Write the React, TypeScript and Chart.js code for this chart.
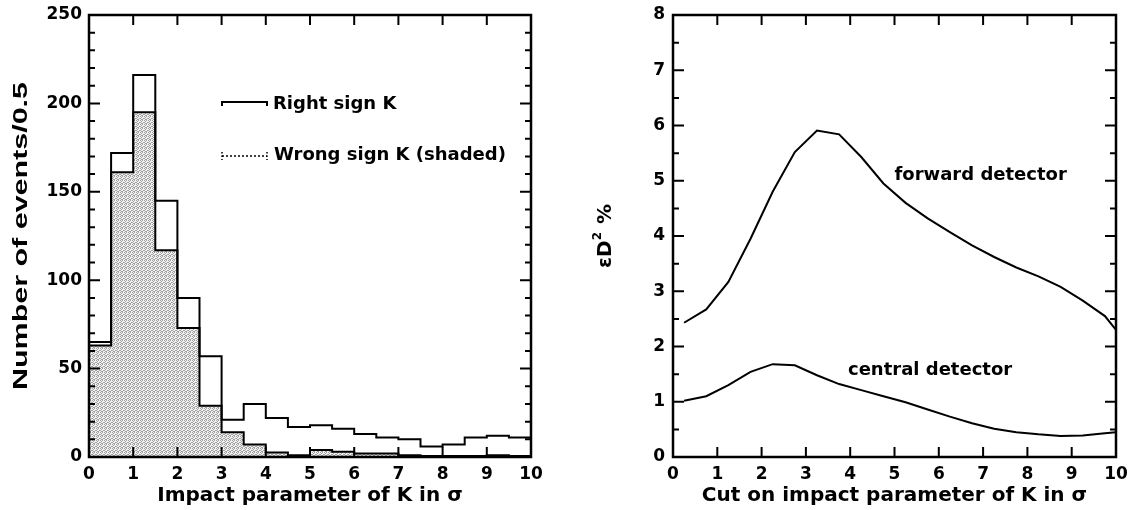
import React, { useEffect, useRef } from "react";
import { Chart, registerables } from "chart.js";

Chart.register(...registerables);

// ---------------- data ----------------
const binEdges = [0, 0.5, 1, 1.5, 2, 2.5, 3, 3.5, 4, 4.5, 5, 5.5, 6, 6.5, 7, 7.5, 8, 8.5, 9, 9.5];
const histEnd = 10;
const rightSign = [65, 172, 216, 145, 90, 57, 21, 30, 22, 17, 18, 16, 13, 11, 10, 6, 7, 11, 12, 11];
const wrongSign = [63, 161, 195, 117, 73, 29, 14, 7, 2.5, 1, 4, 3, 2, 2, 1, 0.5, 0.5, 0.5, 1, 0.5];
const histXTicks = [0, 1, 2, 3, 4, 5, 6, 7, 8, 9, 10];
const histYTicks = [0, 50, 100, 150, 200, 250];
const histYMinor = [10, 20, 30, 40, 60, 70, 80, 90, 110, 120, 130, 140, 160, 170, 180, 190, 210, 220, 230, 240];

const cutValues = [0.25, 0.75, 1.25, 1.75, 2.25, 2.75, 3.25, 3.75, 4.25, 4.75, 5.25, 5.75, 6.25, 6.75, 7.25, 7.75, 8.25, 8.75, 9.25, 9.75, 10];
const forwardDet = [2.43, 2.67, 3.17, 3.95, 4.8, 5.52, 5.91, 5.84, 5.43, 4.95, 4.6, 4.32, 4.07, 3.83, 3.62, 3.43, 3.27, 3.08, 2.83, 2.55, 2.3];
const centralDet = [1.02, 1.1, 1.3, 1.54, 1.68, 1.66, 1.48, 1.32, 1.21, 1.1, 0.99, 0.86, 0.73, 0.61, 0.51, 0.45, 0.41, 0.38, 0.39, 0.43, 0.45];
const effXTicks = [0, 1, 2, 3, 4, 5, 6, 7, 8, 9, 10];
const effYTicks = [0, 1, 2, 3, 4, 5, 6, 7, 8];
const effYMinor = [0.5, 1.5, 2.5, 3.5, 4.5, 5.5, 6.5, 7.5];

// ---------------- styles ----------------
const FONT = "'DejaVu Sans', sans-serif";
const tickFont = { family: FONT, size: 17, weight: "bold" as const };
const titleFont = { family: FONT, size: 20, weight: "bold" as const };

function makePattern(ctx: CanvasRenderingContext2D) {
  const c = document.createElement("canvas");
  c.width = 4;
  c.height = 4;
  const p = c.getContext("2d")!;
  p.fillStyle = "#f2f2f2";
  p.fillRect(0, 0, 4, 4);
  p.fillStyle = "#a0a0a0";
  const dots = [
    [0, 0], [2, 0], [1, 1], [3, 2], [0, 2], [2, 3], [1, 3],
  ];
  for (const [x, y] of dots) p.fillRect(x, y, 1, 1);
  return ctx.createPattern(c, "repeat");
}

function zeroXPad(s: any) {
  s.height = 53;
  s.paddingLeft = 0;
  s.paddingRight = 0;
}

function frameTicks(id: string, xMajor: number[], yMajor: number[], yMinor: number[]) {
  return {
    id,
    afterDraw(chart: any) {
      const { ctx, chartArea: a, scales } = chart;
      const xs = scales.x;
      const ys = scales.y;
      ctx.save();
      ctx.strokeStyle = "#000";
      ctx.lineWidth = 2;
      ctx.beginPath();
      for (const v of xMajor) {
        const px = xs.getPixelForValue(v);
        if (px <= a.left + 1 || px >= a.right - 1) continue;
        ctx.moveTo(px, a.bottom);
        ctx.lineTo(px, a.bottom - 10);
        ctx.moveTo(px, a.top);
        ctx.lineTo(px, a.top + 10);
      }
      for (const v of yMajor) {
        const py = ys.getPixelForValue(v);
        if (py <= a.top + 1 || py >= a.bottom - 1) continue;
        ctx.moveTo(a.left, py);
        ctx.lineTo(a.left + 11, py);
        ctx.moveTo(a.right, py);
        ctx.lineTo(a.right - 11, py);
      }
      for (const v of yMinor) {
        const py = ys.getPixelForValue(v);
        ctx.moveTo(a.left, py);
        ctx.lineTo(a.left + 6, py);
        ctx.moveTo(a.right, py);
        ctx.lineTo(a.right - 6, py);
      }
      ctx.stroke();
      ctx.lineWidth = 2.5;
      ctx.strokeRect(a.left, a.top, a.right - a.left, a.bottom - a.top);
      ctx.restore();
    },
  };
}

function HistChart() {
  const ref = useRef<HTMLCanvasElement>(null);
  useEffect(() => {
    const canvas = ref.current!;
    const ctx = canvas.getContext("2d")!;
    const pattern = makePattern(ctx);
    const rightPts = binEdges.map((x, i) => ({ x, y: rightSign[i] }));
    rightPts.push({ x: histEnd, y: rightSign[rightSign.length - 1] });
    const wrongPts = binEdges.map((x, i) => ({ x, y: wrongSign[i] }));
    wrongPts.push({ x: histEnd, y: wrongSign[wrongSign.length - 1] });

    const decor = {
      id: "histDecor",
      afterDraw(chart: any) {
        const { ctx: c, chartArea: a } = chart;
        c.save();
        c.fillStyle = "#000";
        c.strokeStyle = "#000";
        // legend
        const x0 = a.left + 133;
        const x1 = a.left + 178;
        const y1 = a.top + 87;
        c.lineWidth = 2;
        c.beginPath();
        c.moveTo(x0, y1 + 4);
        c.lineTo(x0, y1);
        c.lineTo(x1, y1);
        c.lineTo(x1, y1 + 4);
        c.stroke();
        const y2 = a.top + 141;
        c.lineWidth = 1.5;
        c.setLineDash([2, 2]);
        c.beginPath();
        c.moveTo(x0, y2);
        c.lineTo(x1, y2);
        c.stroke();
        c.setLineDash([1.5, 2]);
        c.beginPath();
        c.moveTo(x0, y2 - 4);
        c.lineTo(x0, y2 + 4);
        c.moveTo(x1, y2 - 4);
        c.lineTo(x1, y2 + 4);
        c.stroke();
        c.setLineDash([]);
        c.font = `bold 18px ${FONT}`;
        c.textAlign = "left";
        c.textBaseline = "alphabetic";
        c.fillText("Right sign K", a.left + 184, a.top + 94);
        c.fillText("Wrong sign K (shaded)", a.left + 185, a.top + 145);
        // y title
        c.font = `bold 21px 'Liberation Sans', Arial, sans-serif`;
        const text = "Number of events/0.5";
        const w = c.measureText(text).width;
        c.translate(21, 236);
        c.rotate(-Math.PI / 2);
        c.scale(308 / w, 1);
        c.textAlign = "center";
        c.textBaseline = "middle";
        c.fillText(text, 0, 0);
        c.restore();
      },
    };

    const chart = new Chart(canvas, {
      type: "line",
      data: {
        datasets: [
          {
            data: rightPts,
            stepped: "before",
            borderColor: "#000",
            borderWidth: 2,
            pointRadius: 0,
            fill: false,
            order: 0,
          },
          {
            data: wrongPts,
            stepped: "before",
            borderColor: "#000",
            borderWidth: 2,
            pointRadius: 0,
            backgroundColor: pattern as any,
            fill: "origin",
            order: 1,
          },
        ],
      },
      options: {
        responsive: false,
        animation: false,
        devicePixelRatio: 1,
        layout: { padding: { top: 15, right: 29, left: 0, bottom: 0 } },
        plugins: { legend: { display: false }, tooltip: { enabled: false } },
        scales: {
          x: {
            type: "linear",
            min: 0,
            max: 10,
            afterBuildTicks: (s: any) => {
              s.ticks = histXTicks.map((v) => ({ value: v }));
            },
            afterFit: zeroXPad,
            grid: { display: false, drawTicks: false },
            border: { display: false },
            ticks: { padding: 7, color: "#000", font: tickFont, maxRotation: 0, autoSkip: false },
            title: {
              display: true,
              text: "Impact parameter of K in σ",
              color: "#000",
              font: titleFont,
              padding: { top: 0, bottom: 2 },
            },
          },
          y: {
            type: "linear",
            min: 0,
            max: 250,
            afterBuildTicks: (s: any) => {
              s.ticks = histYTicks.map((v) => ({ value: v }));
            },
            afterFit: (s: any) => {
              s.width = 89;
              s.paddingTop = 0;
              s.paddingBottom = 0;
            },
            grid: { display: false, drawTicks: false },
            border: { display: false },
            ticks: { padding: 7, color: "#000", font: tickFont, autoSkip: false },
          },
        },
      },
      plugins: [frameTicks("histFrame", histXTicks, histYTicks, histYMinor), decor],
    } as any);
    return () => chart.destroy();
  }, []);
  return (
    <canvas
      ref={ref}
      width={560}
      height={510}
      style={{ position: "absolute", left: 0, top: 0, width: 560, height: 510 }}
    />
  );
}

function EffChart() {
  const ref = useRef<HTMLCanvasElement>(null);
  useEffect(() => {
    const canvas = ref.current!;
    const decor = {
      id: "effDecor",
      afterDraw(chart: any) {
        const { ctx: c, scales } = chart;
        const xs = scales.x;
        const ys = scales.y;
        c.save();
        c.fillStyle = "#000";
        c.font = `bold 18px ${FONT}`;
        c.textAlign = "left";
        c.textBaseline = "alphabetic";
        c.fillText("forward detector", xs.getPixelForValue(5.0), ys.getPixelForValue(5.01));
        c.fillText("central detector", xs.getPixelForValue(3.95), ys.getPixelForValue(1.48));
        // y title  "εD² %"
        c.translate(41, 236);
        c.rotate(-Math.PI / 2);
        const big = `bold 20px ${FONT}`;
        const small = `bold 12px ${FONT}`;
        c.font = big;
        const w1 = c.measureText("εD").width;
        const w3 = c.measureText(" %").width;
        c.font = small;
        const w2 = c.measureText("2").width + 1;
        const total = w1 + w2 + w3;
        let x = -total / 2;
        c.textBaseline = "middle";
        c.font = big;
        c.fillText("εD", x, 0);
        x += w1;
        c.font = small;
        c.fillText("2", x, -8);
        x += w2;
        c.font = big;
        c.fillText(" %", x, 0);
        c.restore();
      },
    };
    const chart = new Chart(canvas, {
      type: "line",
      data: {
        datasets: [
          {
            data: cutValues.map((x, i) => ({ x, y: forwardDet[i] })),
            borderColor: "#000",
            borderWidth: 2,
            pointRadius: 0,
            tension: 0,
            fill: false,
          },
          {
            data: cutValues.map((x, i) => ({ x, y: centralDet[i] })),
            borderColor: "#000",
            borderWidth: 2,
            pointRadius: 0,
            tension: 0,
            fill: false,
          },
        ],
      },
      options: {
        responsive: false,
        animation: false,
        devicePixelRatio: 1,
        layout: { padding: { top: 15, right: 14, left: 0, bottom: 0 } },
        plugins: { legend: { display: false }, tooltip: { enabled: false } },
        scales: {
          x: {
            type: "linear",
            min: 0,
            max: 10,
            afterBuildTicks: (s: any) => {
              s.ticks = effXTicks.map((v) => ({ value: v }));
            },
            afterFit: zeroXPad,
            grid: { display: false, drawTicks: false },
            border: { display: false },
            ticks: { padding: 7, color: "#000", font: tickFont, maxRotation: 0, autoSkip: false },
            title: {
              display: true,
              text: "Cut on impact parameter of K in σ",
              color: "#000",
              font: titleFont,
              padding: { top: 0, bottom: 2 },
            },
          },
          y: {
            type: "linear",
            min: 0,
            max: 8,
            afterBuildTicks: (s: any) => {
              s.ticks = effYTicks.map((v) => ({ value: v }));
            },
            afterFit: (s: any) => {
              s.width = 108;
              s.paddingTop = 0;
              s.paddingBottom = 0;
            },
            grid: { display: false, drawTicks: false },
            border: { display: false },
            ticks: { padding: 8, color: "#000", font: tickFont, autoSkip: false },
          },
        },
      },
      plugins: [frameTicks("effFrame", effXTicks, effYTicks, effYMinor), decor],
    } as any);
    return () => chart.destroy();
  }, []);
  return (
    <canvas
      ref={ref}
      width={565}
      height={510}
      style={{ position: "absolute", left: 565, top: 0, width: 565, height: 510 }}
    />
  );
}

export default function App() {
  return (
    <div style={{ position: "fixed", left: 0, top: 0, width: 1130, height: 510, background: "#fff", overflow: "hidden" }}>
      <HistChart />
      <EffChart />
    </div>
  );
}
